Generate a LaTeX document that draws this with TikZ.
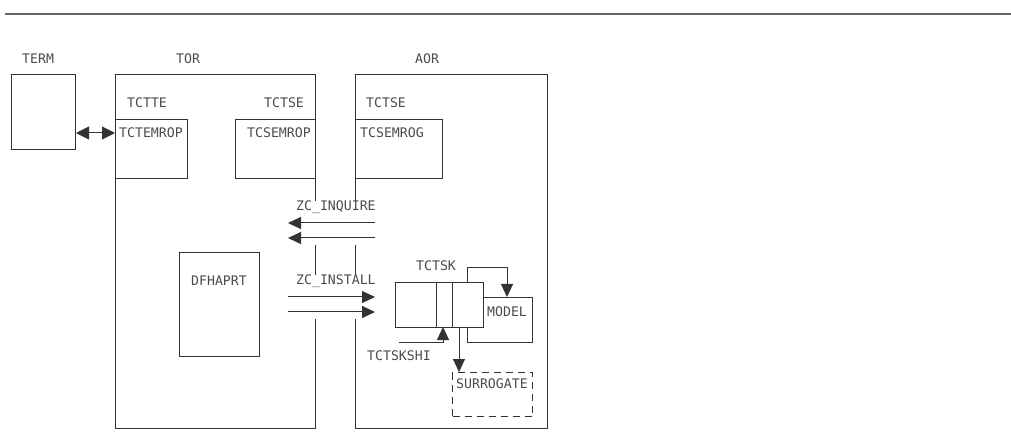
\documentclass[tikz,border=0pt]{standalone}
\usepackage{fontspec}
\setmonofont{DejaVu Sans Mono}
\usetikzlibrary{arrows.meta}
\definecolor{lc}{gray}{0.2}
\definecolor{tc}{gray}{0.3}
\definecolor{rc}{gray}{0.4}
\begin{document}
\begin{tikzpicture}[x=1pt,y=-1pt,
  box/.style={draw=lc, line width=1pt, anchor=north west, inner sep=0pt, fill=white},
  lbl/.style={anchor=west, inner sep=0pt, text=tc, font=\ttfamily\fontsize{13.2}{13}\selectfont},
  arr/.style={draw=lc, line width=1pt, -{Triangle[length=13pt,width=12pt]}},
  dblarr/.style={draw=lc, line width=1pt, {Triangle[length=13pt,width=13pt]}-{Triangle[length=13pt,width=13pt]}},
  ln/.style={draw=lc, line width=1pt},
]
\useasboundingbox (0,0) rectangle (1011,435);
% top rule
\coordinate (ruleL) at (5,14);
\coordinate (ruleR) at (1011,14);
\draw[rc, line width=2pt] (ruleL) -- (ruleR);

% main boxes
\node[box, minimum width=64pt, minimum height=75pt] (term) at (11,74) {};
\node[box, minimum width=200pt, minimum height=354pt] (tor) at (115,74) {};
\node[box, minimum width=192pt, minimum height=354pt] (aor) at (355,74) {};
\node[box, minimum width=72pt, minimum height=59pt] (tctemrop) at (115,119) {};
\node[box, minimum width=80pt, minimum height=59pt] (tcsemrop) at (235,119) {};
\node[box, minimum width=87pt, minimum height=59pt] (tcsemrog) at (355,119) {};
\node[box, minimum width=80pt, minimum height=104pt] (dfhaprt) at (179,252) {};

% gaps in the borders between TOR and AOR
\fill[white] (309,201) rectangle (361,245);
\fill[white] (309,275) rectangle (361,319);

% labels
\node[lbl] (lterm) at (22,59) {TERM};
\node[lbl] (ltor) at (176,59) {TOR};
\node[lbl] (laor) at (415,59) {AOR};
\node[lbl] (ltctte) at (127,103) {TCTTE};
\node[lbl] (ltctse1) at (264,103) {TCTSE};
\node[lbl] (ltctse2) at (366,103) {TCTSE};
\node[lbl] (ltctemrop) at (119,133) {TCTEMROP};
\node[lbl] (ltcsemrop) at (247,133) {TCSEMROP};
\node[lbl] (ltcsemrog) at (360,133) {TCSEMROG};
\node[lbl] (linq) at (296,207) {ZC\_INQUIRE};
\node[lbl] (linst) at (296,281) {ZC\_INSTALL};
\node[lbl] (ldfh) at (191,281) {DFHAPRT};

% TERM <-> TCTEMROP
\draw[dblarr] (term.east |- ltctemrop) -- (tctemrop.west |- ltctemrop);

% ZC arrows
\coordinate (inqA1) at (375,223);
\coordinate (inqB1) at (288,223);
\coordinate (inqA2) at (375,238);
\coordinate (inqB2) at (288,238);
\coordinate (insA1) at (288,297);
\coordinate (insB1) at (375,297);
\coordinate (insA2) at (288,312);
\coordinate (insB2) at (375,312);
\draw[arr] (inqA1) -- (inqB1);
\draw[arr] (inqA2) -- (inqB2);
\draw[arr] (insA1) -- (insB1);
\draw[arr] (insA2) -- (insB2);

% TCTSK area
\node[box, minimum width=65pt, minimum height=45pt] (model) at (467,297) {};
\node[box, minimum width=88pt, minimum height=45pt] (tctsk) at (395,282) {};
\draw[ln] (436,282) -- (436,327);
\draw[ln] (452,282) -- (452,327);
\node[box, dashed, dash pattern=on 7pt off 5pt, minimum width=80pt, minimum height=44pt] (surr) at (452,372) {};

\node[lbl] (ltctsk) at (416,266) {TCTSK};
\node[lbl] (lmodel) at (487,312) {MODEL};
\node[lbl] (ltctskshi) at (367,356) {TCTSKSHI};
\node[lbl] (lsurr) at (456,384) {SURROGATE};

% loop arrow TCTSK -> MODEL
\coordinate (loopS) at (467,282);
\coordinate (loopE) at (507,297);
\draw[arr] (loopS) -- (467,268) -| (loopE);
% TCTSKSHI arrow
\coordinate (shiS) at (399,342);
\coordinate (shiE) at (443,327);
\draw[arr] (shiS) -| (shiE);
% to SURROGATE
\draw[arr] (459,327) -- (459,372);
\end{tikzpicture}
\end{document}
